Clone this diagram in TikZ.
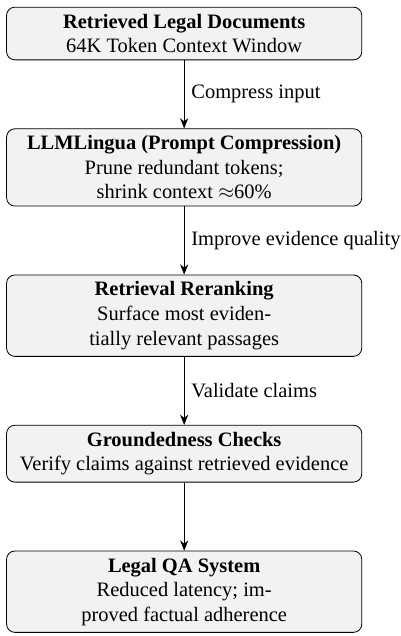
\documentclass[tikz,border=0pt]{standalone}
\usepackage{amsmath}
\usepackage{amssymb}
\usepackage{fontspec}
\setmainfont{Liberation Serif}
\usepackage{tikz}
\usetikzlibrary{positioning,arrows.meta}

\tikzset{
    stage/.style={draw, rounded corners=4pt, fill=gray!10, minimum width=6.1cm, align=center},
    flow/.style={-{Stealth[length=5pt,width=4pt]}}
}

\begin{document}
\begin{tikzpicture}[node distance=1.17cm]
    \useasboundingbox (0,0) rectangle (195.5pt,-310.8pt);
    \coordinate (top) at (90pt,-3.3pt);
    \node[stage, anchor=north] (docs) at (top) {\textbf{Retrieved Legal Documents}\\64K Token Context Window};
    \node[stage, below=of docs] (lingua) {\textbf{LLMLingua (Prompt Compression)}\\Prune redundant tokens;\\shrink context $\approx$60\%};
    \node[stage, below=of lingua] (rerank) {\textbf{Retrieval Reranking}\\Surface most eviden-\\tially relevant passages};
    \node[stage, below=of rerank] (ground) {\textbf{Groundedness Checks}\\Verify claims against retrieved evidence};
    \node[stage, below=of ground] (qa) {\textbf{Legal QA System}\\Reduced latency; im-\\proved factual adherence};
    \draw[flow] (docs) to node[right] {Compress input} (lingua);
    \draw[flow] (lingua) to node[right] {Improve evidence quality} (rerank);
    \draw[flow] (rerank) to node[right] {Validate claims} (ground);
    \draw[flow] (ground) to (qa);
\end{tikzpicture}
\end{document}
